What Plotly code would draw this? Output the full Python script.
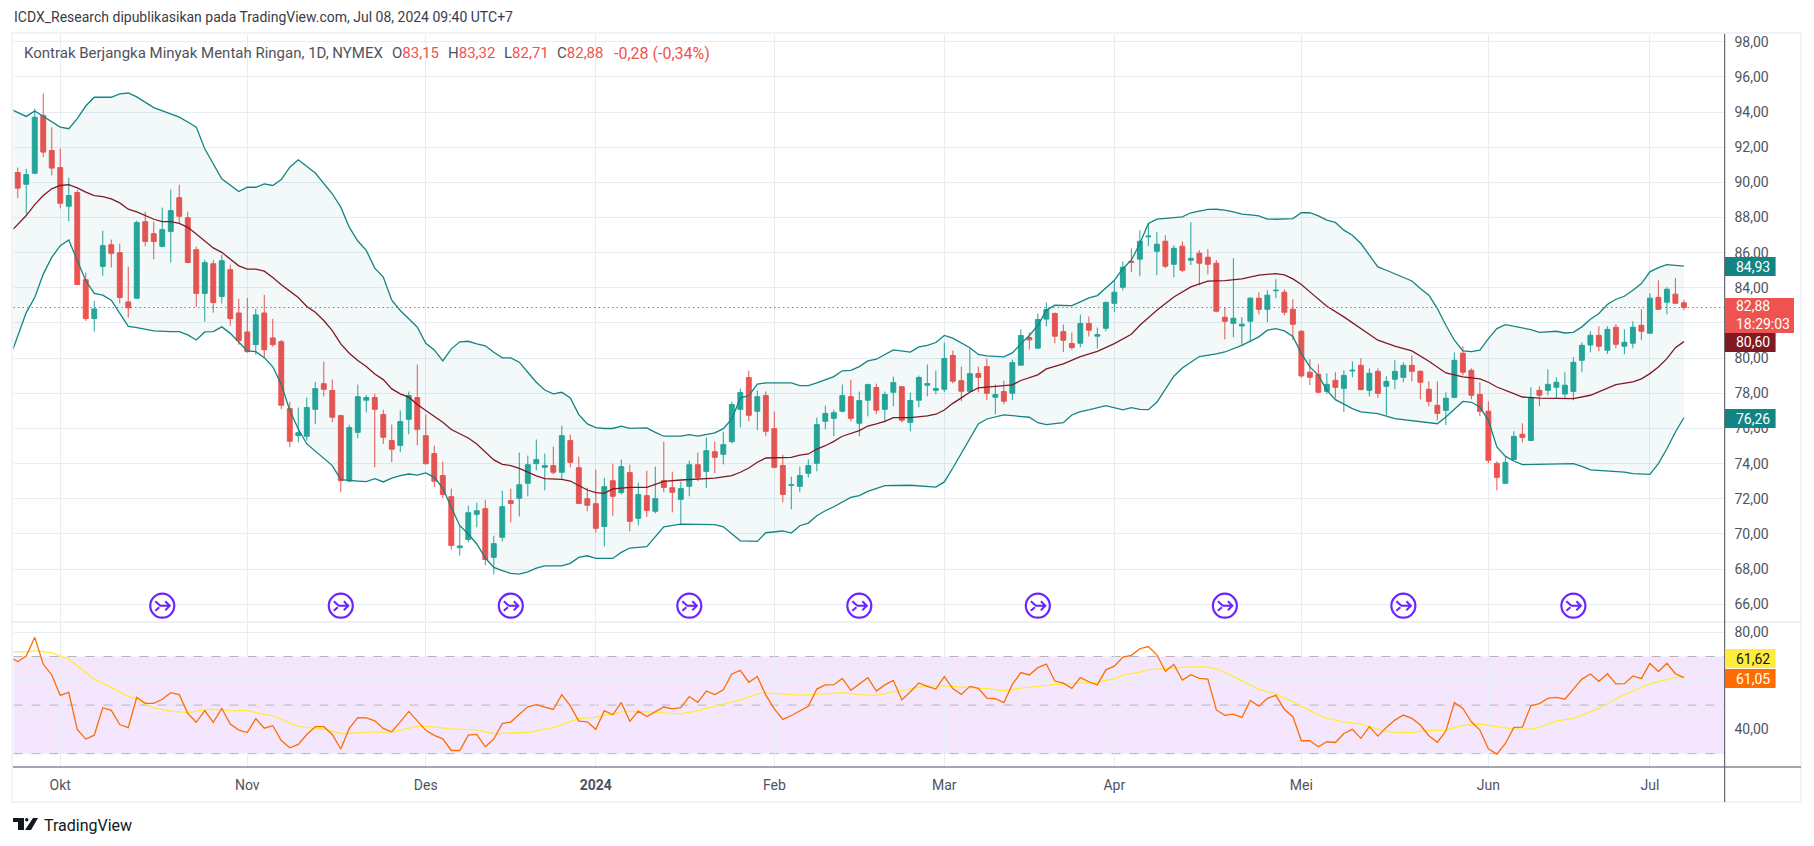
import plotly.graph_objects as go
from plotly.subplots import make_subplots

W, H = 1814, 846

opens = [90.56,89.89,90.52,93.81,91.81,90.84,88.64,89.42,84.46,82.25,
         85.22,86.45,86.00,83.20,83.41,87.76,87.08,86.36,87.21,89.13,
         87.99,86.17,83.68,85.37,83.51,85.03,82.57,81.49,80.77,82.57,
         81.15,80.94,77.13,75.59,75.56,77.09,78.55,78.16,76.73,73.01,
         75.78,77.61,77.76,76.79,75.31,75.04,76.52,77.76,75.59,74.57,
         73.32,72.12,69.22,69.69,71.12,71.44,68.67,69.81,71.89,72.03,
         72.88,74.00,73.79,73.89,73.51,75.31,73.77,72.01,71.72,70.43,
         73.03,72.35,73.49,70.89,72.18,71.29,73.03,72.63,71.97,72.71,
         73.94,73.56,74.68,74.53,75.25,77.09,78.90,76.98,77.87,75.99,
         73.89,72.77,72.71,73.45,74.02,76.41,76.58,76.98,77.81,76.30,
         77.61,78.33,77.09,78.06,78.38,76.35,77.61,78.46,78.17,78.23,
         80.15,78.72,78.12,79.12,79.52,77.78,78.10,78.00,79.60,81.17,
         80.57,82.22,82.54,81.51,80.83,80.85,81.97,81.25,81.70,83.12,
         84.03,85.51,85.63,86.90,86.08,86.65,85.34,86.37,85.57,85.97,
         85.74,85.40,82.33,81.98,81.83,82.10,83.41,82.78,83.83,83.75,
         82.78,81.53,79.20,79.08,78.11,78.74,78.28,79.27,79.59,78.17,
         79.25,78.40,78.80,78.91,79.59,79.25,78.23,77.32,77.03,77.77,
         80.28,79.31,77.94,76.98,74.02,72.88,74.24,75.67,75.32,78.17,
         78.17,78.34,77.96,78.11,79.88,80.75,81.30,80.45,81.76,80.68,
         80.85,81.87,81.42,83.46,83.18,83.64,83.15]
highs = [90.84,90.77,94.19,95.05,93.13,91.91,90.27,89.57,84.87,83.26,
         87.25,86.74,86.51,85.20,87.82,88.33,87.76,88.56,89.59,89.86,
         88.33,86.34,85.60,85.60,85.88,85.31,83.37,83.43,82.80,83.60,
         82.23,81.04,77.51,77.19,77.76,78.65,79.81,78.78,76.79,76.22,
         78.50,77.91,77.97,77.07,76.22,77.02,78.10,79.64,76.79,75.02,
         74.11,72.58,70.46,71.61,71.78,71.95,69.90,72.46,72.58,74.63,
         74.46,75.37,74.57,74.97,76.16,75.65,74.40,72.63,73.66,73.20,
         74.00,74.23,73.94,72.92,73.60,73.83,75.25,73.54,72.98,74.17,
         74.63,75.48,75.25,75.82,77.53,78.27,79.29,78.16,78.10,76.96,
         74.51,73.26,73.83,74.23,76.62,77.30,77.07,78.50,78.78,78.10,
         78.55,78.55,78.10,78.95,78.38,78.04,79.01,79.64,79.29,80.89,
         80.43,79.52,80.55,79.52,79.98,78.50,78.72,79.92,81.63,81.46,
         82.54,83.17,82.60,81.91,81.46,82.48,82.37,81.74,83.22,84.43,
         85.51,86.25,87.28,87.68,87.17,86.99,86.42,86.65,87.73,86.14,
         86.20,85.57,82.90,85.68,82.33,83.46,83.75,83.86,84.49,83.92,
         83.35,81.59,79.94,79.65,79.14,79.20,79.31,79.82,79.99,79.42,
         79.42,78.97,79.88,79.76,80.16,79.31,78.68,78.68,78.06,80.33,
         80.68,79.42,78.63,77.54,74.13,74.36,75.84,76.29,78.34,78.40,
         79.37,78.91,79.20,80.05,80.90,81.53,81.81,81.81,81.93,81.64,
         82.10,82.78,83.69,84.43,84.03,84.55,83.32]
lows = [89.10,88.20,90.46,91.43,90.39,88.52,87.78,84.19,82.12,81.51,
        84.68,85.16,83.11,82.30,83.37,86.36,85.62,86.30,85.44,87.63,
        85.39,82.92,82.08,82.59,83.11,81.85,80.75,80.31,80.20,80.06,
        80.65,77.09,74.93,75.21,75.31,76.24,77.83,76.35,72.37,72.94,
        75.44,76.92,73.79,75.12,74.08,74.65,75.67,75.04,73.94,72.67,
        72.03,69.12,68.77,69.52,70.38,68.21,67.70,69.58,70.66,71.00,
        72.14,73.62,72.48,73.39,73.11,73.79,71.70,71.29,70.09,69.29,
        71.04,72.25,70.15,70.49,70.98,71.17,72.37,71.23,70.51,72.14,
        73.00,72.60,73.45,73.96,75.16,76.07,76.41,75.90,75.56,73.73,
        71.80,71.40,72.37,73.22,73.56,75.95,75.56,76.92,76.41,75.56,
        76.69,76.81,76.35,77.26,76.35,75.84,77.21,77.83,77.95,78.06,
        78.57,77.55,78.06,78.06,77.61,76.81,77.38,77.61,79.60,80.49,
        80.55,81.80,80.85,80.34,80.47,80.62,81.23,80.55,81.53,82.63,
        83.86,84.89,84.66,86.37,84.72,85.12,84.60,84.89,85.29,84.15,
        84.77,82.61,81.07,81.19,80.73,80.90,82.50,82.04,83.41,82.44,
        81.02,78.87,78.47,78.00,77.96,77.73,76.94,78.91,78.17,77.83,
        77.73,76.75,78.23,78.63,78.68,77.66,77.26,76.46,76.20,77.72,
        79.02,77.66,76.71,74.02,72.48,72.84,74.19,75.21,75.27,77.26,
        77.89,77.73,77.73,77.60,79.20,80.33,80.39,80.24,80.56,80.22,
        80.56,81.02,81.42,82.78,82.50,83.07,82.71]
closes = [89.67,90.44,93.70,91.72,90.81,88.81,89.25,84.19,82.25,82.80,
          86.40,85.96,83.45,82.86,87.71,86.64,86.64,87.31,88.39,88.07,
          85.44,83.68,85.43,83.16,85.54,82.25,81.00,80.37,82.46,80.48,
          80.77,77.32,75.27,75.76,77.19,78.27,78.23,76.64,73.03,76.05,
          77.81,77.76,77.09,75.50,74.82,76.39,77.87,75.95,74.00,73.00,
          72.25,69.35,69.32,71.21,71.32,68.55,69.45,71.55,71.74,72.80,
          73.94,74.23,73.89,73.51,75.59,74.08,71.74,71.63,70.32,72.69,
          72.14,73.83,70.72,72.24,71.34,72.01,72.65,72.37,72.58,73.94,
          73.22,74.74,74.36,75.08,77.36,78.04,76.75,77.81,75.84,73.79,
          72.25,72.80,73.32,73.89,76.22,76.85,76.90,77.87,76.58,77.59,
          78.50,77.04,77.93,78.61,76.47,77.59,78.90,78.55,78.27,79.98,
          78.69,78.12,79.12,78.91,78.00,77.93,77.55,79.75,81.29,81.04,
          82.20,82.77,81.25,81.02,80.60,81.97,81.59,81.34,83.17,83.75,
          85.17,85.46,86.65,86.94,86.48,85.23,86.25,85.00,85.68,85.40,
          85.34,82.67,82.10,82.27,81.93,83.41,82.78,83.58,83.86,82.61,
          81.93,78.99,78.91,78.06,78.51,78.34,79.02,79.31,78.21,79.14,
          78.00,78.68,79.25,79.59,79.25,78.63,77.54,76.86,77.72,79.88,
          79.20,77.89,76.98,74.19,73.22,74.07,75.55,75.50,77.77,77.89,
          78.51,78.63,78.46,79.76,80.73,81.30,80.68,81.64,80.79,80.90,
          81.76,81.53,83.41,82.78,83.92,83.12,82.88]
bars = list(range(len(closes)))

# bollinger lines, read at their corners
upper_bars = [-1,1,2,4,5,6,7,8,9,11,12,13,14,16,18,19,20,21,22,24,26,27,28,29,30,31,32,33,35,37,38,39,40,41,42,43,44,45,46,47,48,49,50,51,52,53,54,55,56,57,58,59,60,61,62,63,64,65,66,67,68,69,70,71,72,74,75,76,78,79,80,82,83,84,85,86,87,88,91,92,93,94,96,97,98,99,100,101,103,105,106,107,108,109,110,111,112,113,114,116,117,118,119,120,121,122,124,125,126,127,128,129,130,131,132,133,134,135,136,137,138,139,140,141,142,143,144,145,146,147,148,150,151,152,153,154,155,156,157,158,159,160,161,162,163,164,165,166,167,168,169,170,171,172,173,174,175,176,177,178,179,180,181,182,183,184,185,186,187,188,189,190,191,192,193,194,195,196]
upper_vals = [94.2,93.75,94.06,93.43,93.14,93.05,93.62,94.34,94.84,94.84,95.03,95.08,94.86,94.25,93.9,93.71,93.43,93.14,91.91,90.2,89.48,89.72,89.72,89.91,89.82,90.16,90.86,91.28,90.53,89.35,88.59,87.45,86.66,86.13,85.12,84.61,83.3,82.71,82.24,81.76,80.85,80.47,79.84,80.53,80.93,80.96,80.81,80.7,80.34,80.02,80.02,79.77,79.2,78.63,78.19,77.97,78.06,77.74,76.79,76.26,76.05,76.0,76.0,76.13,76.01,76.03,75.78,75.56,75.56,75.65,75.57,75.75,75.99,76.54,77.74,77.87,78.52,78.59,78.59,78.44,78.44,78.59,78.95,79.28,79.31,79.52,79.84,79.94,80.47,80.34,80.64,80.73,80.89,81.29,81.14,80.87,80.59,80.21,80.13,80.07,80.3,80.81,81.29,81.86,82.72,83.01,82.99,83.2,83.43,83.56,84.02,84.43,85.1,85.57,86.52,87.66,87.91,87.96,88.0,88.04,88.27,88.36,88.46,88.47,88.42,88.32,88.19,88.15,88.09,87.91,87.9,87.94,88.27,88.27,88.09,87.85,87.72,87.28,86.99,86.52,85.86,85.19,85.0,84.81,84.62,84.39,83.96,83.58,82.82,81.87,81.02,80.41,80.37,80.45,81.11,81.68,81.91,81.81,81.72,81.62,81.47,81.49,81.53,81.43,81.47,81.78,82.21,82.54,83.05,83.35,83.52,83.86,84.24,84.91,85.15,85.32,85.27,85.23]
basis_bars = [-1,1,2,3,4,5,6,7,8,9,10,11,12,13,14,15,16,17,18,19,20,21,22,23,24,25,26,27,28,29,30,31,32,33,34,35,36,37,38,39,40,41,42,43,44,45,46,47,48,49,50,51,52,53,54,55,56,57,58,59,60,61,62,63,64,65,66,67,68,69,70,71,72,74,75,76,78,80,82,84,85,86,87,88,90,91,92,93,94,95,96,97,99,100,101,102,103,105,107,108,109,110,111,112,113,114,116,117,118,120,121,123,125,127,129,131,132,134,136,138,140,142,144,146,148,149,150,151,152,153,154,156,158,160,162,164,166,168,170,172,173,174,176,177,179,183,185,187,188,190,191,192,193,194,195,196]
basis_vals = [87.1,88.11,88.73,89.25,89.63,89.82,89.87,89.68,89.44,89.25,89.19,89.06,88.83,88.47,88.32,88.11,87.9,87.76,87.76,87.67,87.44,87.06,86.68,86.27,86.02,85.63,85.25,85.06,85.06,84.95,84.59,84.17,83.79,83.45,82.94,82.61,82.14,81.57,80.81,80.28,79.86,79.52,79.1,78.78,78.25,77.97,77.78,77.36,77.02,76.68,76.35,75.94,75.69,75.46,75.12,74.65,74.21,73.96,73.89,73.73,73.51,73.3,73.15,73.11,73.11,73.01,72.75,72.5,72.35,72.31,72.56,72.61,72.65,72.65,72.8,72.99,73.07,73.11,73.18,73.32,73.51,73.75,74.08,74.32,74.36,74.36,74.49,74.55,74.83,75.02,75.27,75.56,75.88,76.14,76.26,76.41,76.62,76.62,76.72,76.81,77.05,77.43,77.74,78.06,78.31,78.36,78.44,78.48,78.73,79.05,79.39,79.67,80.09,80.39,80.83,81.36,81.87,82.72,83.48,84.05,84.38,84.41,84.51,84.72,84.81,84.74,84.51,84.19,83.77,83.35,82.95,82.35,81.68,81.02,80.69,80.41,79.82,79.16,78.93,78.82,78.63,78.36,77.98,77.79,77.73,77.7,77.89,78.27,78.49,78.65,78.82,79.12,79.5,79.97,80.6,80.94]
lower_bars = [-1,1,2,3,4,5,6,7,8,9,10,11,12,13,14,16,18,19,20,21,22,23,24,25,26,27,28,29,30,31,32,33,34,35,36,37,38,39,40,41,42,43,44,45,46,47,48,49,50,51,52,53,54,55,56,57,58,59,60,61,62,64,65,66,67,68,70,71,72,74,76,78,82,83,85,87,88,90,91,92,93,94,95,96,98,99,100,102,105,108,109,110,112,113,114,116,119,120,121,123,124,125,126,128,130,131,132,133,134,136,137,139,141,142,144,146,147,148,149,150,151,152,153,154,155,156,157,158,160,162,164,166,167,168,170,171,172,173,174,175,176,177,183,184,185,189,190,192,193,194,195,196]
lower_vals = [79.93,82.59,83.45,84.78,85.73,86.4,86.72,85.54,84.4,83.68,83.58,83.3,82.59,81.81,81.74,81.55,81.51,81.51,81.32,81.03,81.49,81.51,81.78,81.41,80.92,80.41,80.37,80.03,79.51,78.51,77.02,75.97,75.12,74.7,74.32,73.89,73.09,73.03,73.01,72.98,73.15,72.96,73.18,73.32,73.41,73.35,73.47,73.22,72.61,71.51,70.47,70.0,69.43,68.63,68.1,67.91,67.76,67.72,67.85,68.06,68.19,68.19,68.33,68.67,68.76,68.61,68.61,68.95,69.2,69.28,70.41,70.56,70.53,70.41,69.61,69.58,70.07,70.17,70.05,70.47,70.62,71.04,71.32,71.55,72.08,72.18,72.42,72.75,72.77,72.67,72.96,73.75,75.39,76.26,76.54,76.77,76.64,76.33,76.22,76.33,76.77,76.96,77.06,77.3,77.06,77.19,77.09,77.07,77.49,78.97,79.44,80.09,80.24,80.35,80.73,81.21,81.59,81.68,81.55,81.24,80.26,79.5,79.02,78.17,77.64,77.37,77.13,76.94,76.84,76.56,76.43,76.31,76.27,76.65,77.54,77.49,77.22,76.46,74.95,74.41,74.15,73.94,74.0,73.84,73.65,73.52,73.43,73.39,74.0,74.85,75.8,76.61]

rsi_bars = list(range(-1, 197))
rsi_vals = [69.8,67.9,70.2,77.9,66.8,62.4,54.0,55.2,40.0,36.0,37.6,48.9,47.8,42.0,40.7,53.2,50.7,50.7,52.4,55.1,
            54.3,46.6,42.9,47.7,42.9,48.6,42.2,39.7,38.7,44.4,40.5,41.5,35.4,32.4,33.8,37.9,41.1,41.1,37.9,31.9,
            40.4,44.8,44.7,43.5,40.4,39.0,43.1,47.4,43.5,39.6,37.5,36.1,31.3,31.3,37.6,37.9,32.8,36.0,42.4,43.0,
            46.2,49.3,50.2,49.2,48.2,54.3,49.7,43.4,43.1,40.0,47.7,46.0,51.1,43.3,47.5,45.3,47.3,49.2,48.4,48.9,
            53.5,51.1,55.8,54.3,56.3,62.8,64.3,59.4,61.8,54.1,48.4,44.1,45.7,47.7,49.5,56.6,58.3,58.4,61.0,56.1,
            58.7,61.3,55.8,58.3,60.2,52.1,55.5,59.1,57.7,56.6,61.7,56.8,54.4,57.7,56.9,52.9,52.6,51.0,58.5,63.4,
            62.4,65.4,66.9,59.9,59.0,56.9,61.3,59.6,58.3,64.5,66.0,69.8,70.5,73.2,74.1,70.7,63.9,66.7,60.3,62.5,
            61.0,60.7,48.0,45.8,46.3,44.9,51.9,49.5,52.8,54.0,48.2,45.2,35.3,35.3,32.8,34.9,34.6,38.3,40.0,36.3,
            41.1,37.2,40.8,43.8,45.9,44.5,41.8,37.4,34.7,39.3,51.0,48.6,43.1,39.7,32.0,29.8,34.2,40.8,40.9,49.7,
            50.6,52.8,53.2,52.4,56.6,60.7,62.8,59.8,62.9,58.7,58.8,62.0,60.9,67.2,63.8,67.2,62.9,61.3]
rsi_ma_bars = [-1,1,2,4,5,6,7,8,9,10,11,13,14,15,16,18,20,22,23,25,27,29,30,31,33,34,36,38,39,41,44,45,47,48,51,54,56,58,60,62,63,65,66,68,69,70,71,73,75,78,80,82,85,87,88,92,95,97,99,101,103,105,107,109,112,114,116,118,120,122,125,127,129,130,132,133,135,138,140,141,142,144,146,148,150,152,154,156,158,160,162,164,166,168,169,170,172,174,176,178,179,181,183,186,188,190,192,195,196]
rsi_ma_vals = [72.0,71.9,72.3,71.6,70.2,68.9,66.2,63.3,60.6,59.0,57.3,53.5,52.6,50.4,48.8,47.5,46.9,48.0,48.2,47.8,47.7,46.2,45.6,44.2,41.2,40.7,40.2,38.3,38.3,38.9,38.9,39.7,41.2,41.3,40.2,39.8,38.2,38.5,38.7,40.1,40.7,43.3,44.4,44.9,45.9,46.2,47.3,47.4,46.9,46.4,47.7,49.6,52.1,54.6,55.0,54.1,54.6,55.1,54.3,54.0,55.4,56.6,57.9,57.9,57.3,56.8,55.9,57.0,57.7,58.5,59.0,59.4,60.9,62.4,63.6,64.6,65.0,65.7,65.7,64.9,63.5,60.1,56.5,54.6,51.4,47.7,44.5,43.1,42.2,40.1,38.7,38.7,39.6,39.7,40.8,41.6,42.2,41.1,40.1,40.1,40.8,43.4,44.5,48.6,52.6,55.9,58.7,61.4,61.6]

month_bars = [5, 27, 48, 68, 89, 109, 129, 151, 173, 192]
month_labels = ["Okt", "Nov", "Des", "<b>2024</b>", "Feb", "Mar", "Apr", "Mei", "Jun", "Jul"]
price_ticks = list(range(66, 100, 2))
price_labels = [f"{p},00" for p in price_ticks]
rsi_ticks = [80, 60, 40]
rsi_labels = ["80,00", "", "40,00"]
rsi_levels = [70, 50, 30]
event_bars = [17, 38, 58, 79, 99, 120, 142, 163, 183]
event_price = 65.92
last_price = 82.88

GREEN, RED = "#26a69a", "#ef5350"
TEAL, MAROON = "#138484", "#801922"
PURPLE = "#6a24ff"
GRID = "#e6edf3"
TEXT = "#50535e"
FONT = "Roboto"


def px(x):
    return x / W


def py(y):
    return 1 - y / H


fig = make_subplots(rows=2, cols=1, shared_xaxes=True)

fig.add_trace(go.Scatter(x=lower_bars, y=lower_vals, mode="lines", line=dict(color=TEAL, width=1.3)), row=1, col=1)
fig.add_trace(go.Scatter(x=upper_bars, y=upper_vals, mode="lines", line=dict(color=TEAL, width=1.3),
                         fill="tonexty", fillcolor="rgba(15,130,130,0.05)"), row=1, col=1)
fig.add_trace(go.Scatter(x=basis_bars, y=basis_vals, mode="lines", line=dict(color=MAROON, width=1.3)), row=1, col=1)
fig.add_trace(go.Candlestick(x=bars, open=opens, high=highs, low=lows, close=closes,
                             increasing=dict(line=dict(color=GREEN, width=1), fillcolor=GREEN),
                             decreasing=dict(line=dict(color=RED, width=1), fillcolor=RED),
                             whiskerwidth=0), row=1, col=1)
fig.add_trace(go.Scatter(x=event_bars, y=[event_price] * len(event_bars), mode="markers",
                         marker=dict(symbol="circle-open", size=24, color=PURPLE, line=dict(color=PURPLE, width=2.2))),
              row=1, col=1)

fig.add_trace(go.Scatter(x=rsi_ma_bars, y=rsi_ma_vals, mode="lines", line=dict(color="#ffeb3b", width=1.3)), row=2, col=1)
fig.add_trace(go.Scatter(x=rsi_bars, y=rsi_vals, mode="lines", line=dict(color="#ff6d00", width=1.3)), row=2, col=1)

axis_font = dict(family=FONT, size=14, color=TEXT)
fig.update_xaxes(range=[-0.5, 200.8], domain=[px(13.5), px(1724.7)], tickmode="array", tickvals=month_bars,
                 showgrid=True, gridcolor=GRID, gridwidth=1, zeroline=False, showline=False,
                 ticks="outside", ticklen=5, tickcolor="rgba(0,0,0,0)", rangeslider_visible=False)
fig.update_xaxes(ticktext=month_labels, tickfont=axis_font, showticklabels=True, row=2, col=1)
fig.update_xaxes(showticklabels=False, ticks="", row=1, col=1)
fig.update_yaxes(side="right", showgrid=True, gridcolor=GRID, gridwidth=1, zeroline=False, showline=False,
                 tickmode="array", tickfont=axis_font, ticks="outside", ticklen=6, tickcolor="rgba(0,0,0,0)")
fig.update_yaxes(range=[65.05, 98.38], domain=[py(621), py(35)], tickvals=price_ticks, ticktext=price_labels, row=1, col=1)
fig.update_yaxes(range=[24.5, 83.8], domain=[py(767), py(623)], tickvals=rsi_ticks, ticktext=rsi_labels, row=2, col=1)

shapes = [
    dict(type="rect", xref="x2 domain", yref="y2", x0=0, x1=1, y0=rsi_levels[2], y1=rsi_levels[0],
         fillcolor="rgba(145,15,235,0.1)", line_width=0, layer="below"),
]
for lvl in rsi_levels:
    shapes.append(dict(type="line", xref="x2 domain", yref="y2", x0=0, x1=1, y0=lvl, y1=lvl,
                       line=dict(color="#b5b5bb", width=1, dash="dash"), layer="below"))
shapes.append(dict(type="line", xref="x domain", yref="y", x0=0, x1=1, y0=last_price, y1=last_price,
                   line=dict(color=RED, width=1, dash="1.5px,3px")))

# frame, pane divider and axis lines
shapes += [
    dict(type="rect", xref="paper", yref="paper", x0=px(12), x1=px(1801), y0=py(802), y1=py(33),
         line=dict(color="#f0f3fa", width=2)),
    dict(type="line", xref="paper", yref="paper", x0=px(13), x1=px(1801), y0=py(622), y1=py(622),
         line=dict(color="#e0e3eb", width=1)),
    dict(type="line", xref="paper", yref="paper", x0=px(13), x1=px(1801), y0=py(767), y1=py(767),
         line=dict(color="#4a4d57", width=1)),
    dict(type="line", xref="paper", yref="paper", x0=px(1724.7), x1=px(1724.7), y0=py(802), y1=py(34),
         line=dict(color="#4a4d57", width=1)),
]

# arrow glyph inside the event circles
for b in event_bars:
    shapes.append(dict(type="path", xref="x", yref="y", xsizemode="pixel", ysizemode="pixel",
                       xanchor=b, yanchor=event_price,
                       path="M -7,4.5 L -2,0 L 7,0 M 3,4.5 L 7.5,0 L 3,-4.5 M -7,-5 L -3,-1.5",
                       line=dict(color=PURPLE, width=2)))

# price axis badges
annotations = []
badges = [
    (1775.6, 257, 276, TEAL, "84,93", "#ffffff"),
    (1794, 298, 333, RED, "82,88<br>18:29:03", "#ffffff"),
    (1775.6, 333, 352, MAROON, "80,60", "#ffffff"),
    (1775.6, 409, 428, TEAL, "76,26", "#ffffff"),
    (1775.6, 649, 668, "#ffeb3b", "61,62", "#131722"),
    (1775.6, 669, 688, "#ff6d00", "61,05", "#ffffff"),
]
for right, top, bottom, color, label_text, fg in badges:
    shapes.append(dict(type="rect", xref="paper", yref="paper", x0=px(1725), x1=px(right), y0=py(bottom), y1=py(top),
                       fillcolor=color, line_width=0))
    annotations.append(dict(xref="paper", yref="paper", x=px(1734), y=py((top + bottom) / 2), text=label_text,
                            showarrow=False, xanchor="left", yanchor="middle", align="left",
                            font=dict(family=FONT, size=14, color=fg)))


def label(x, y, text, color=TEXT, size=14):
    annotations.append(dict(xref="paper", yref="paper", x=px(x), y=py(y), text=text, showarrow=False,
                            xanchor="left", yanchor="middle", font=dict(family=FONT, size=size, color=color)))


label(11.5, 17, "ICDX_Research dipublikasikan pada TradingView.com, Jul 08, 2024 09:40 UTC+7", "#3a3d47")
label(21.5, 53, "Kontrak Berjangka Minyak Mentah Ringan, 1D, NYMEX", TEXT, 15)
for x, name, val in [(390, "O", "83,15"), (446, "H", "83,32"), (502, "L", "82,71"), (555, "C", "82,88")]:
    label(x, 53, f'{name}<span style="color:{RED}">{val}</span>', TEXT, 15)
label(612, 53, "-0,28 (-0,34%)", RED, 16)

# TradingView logo
logo_t = f"M {px(13)},{py(818)} L {px(24)},{py(818)} L {px(24)},{py(830)} L {px(18)},{py(830)} L {px(18)},{py(822)} L {px(13)},{py(822)} Z"
logo_slash = f"M {px(33)},{py(818)} L {px(38)},{py(818)} L {px(31)},{py(830)} L {px(25)},{py(830)} Z"
shapes.append(dict(type="path", xref="paper", yref="paper", path=logo_t, fillcolor="#131722", line_width=0))
shapes.append(dict(type="path", xref="paper", yref="paper", path=logo_slash, fillcolor="#131722", line_width=0))
shapes.append(dict(type="circle", xref="paper", yref="paper", x0=px(25), x1=px(28.5), y0=py(821.5), y1=py(818),
                   fillcolor="#131722", line_width=0))
label(41.5, 825, "TradingView", "#131722", 16)

fig.update_layout(width=W, height=H, autosize=False, margin=dict(l=0, r=0, t=0, b=0), showlegend=False,
                  boxgap=0.18, paper_bgcolor="#ffffff", plot_bgcolor="#ffffff", shapes=shapes, annotations=annotations)

fig.write_html("out.html", config={"displayModeBar": False}, post_script="document.body.style.margin='0';")
